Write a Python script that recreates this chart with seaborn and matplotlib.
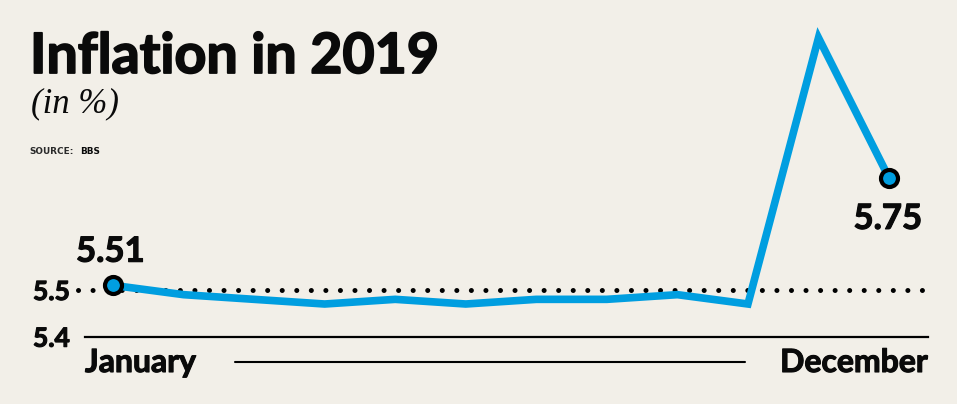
import numpy as np
import pandas as pd
import seaborn as sns
import matplotlib.pyplot as plt
import matplotlib.patheffects as pe

# monthly inflation 2019 (%)
months = ['January', 'February', 'March', 'April', 'May', 'June',
          'July', 'August', 'September', 'October', 'November', 'December']
inflation = [5.51, 5.49, 5.48, 5.47, 5.48, 5.47, 5.48, 5.48, 5.49, 5.47, 6.04, 5.74]
end_labels = ['5.51', '5.75']
y_ticks = [5.4, 5.5]
y_ticklabels = ['5.4', '5.5']

bg = '#f2efe8'
blue = '#009ee0'
ink = '#0a0a0a'

sns.set_theme(style='white')
plt.rcParams['font.family'] = ['Lato', 'DejaVu Sans']
plt.rcParams['text.color'] = ink
plt.rcParams['ytick.color'] = ink

# Lato Bold is lighter than the original face, so thicken it a little
heavy = [pe.withStroke(linewidth=0.8, foreground=ink)]
heavier = [pe.withStroke(linewidth=1.3, foreground=ink)]

df = pd.DataFrame({'month': np.arange(len(months)), 'value': inflation})

W, H = 957, 404
fig = plt.figure(figsize=(W / 100, H / 100), dpi=100, facecolor=bg)
# axes spans the plotting band: 85px..928px wide, baseline (5.4) at 336.7px
ax = fig.add_axes([85 / W, 1 - 336.7 / H, (928 - 85) / W, 336.7 / H])
ax.set_facecolor(bg)

# dotted reference line at 5.5, reaching a bit left of the axes
ax.axhline(5.5, xmin=-0.008, xmax=1.003, color='black', lw=3.6,
           linestyle=(0, (0.01, 2.9)), dash_capstyle='round', clip_on=False, zorder=1)

sns.lineplot(data=df, x='month', y='value', ax=ax, color=blue, lw=5.5, zorder=3,
             solid_joinstyle='miter', solid_capstyle='butt')

ends = df.iloc[[0, -1]]
sns.scatterplot(data=ends, x='month', y='value', ax=ax, s=150, color=blue,
                edgecolor='black', linewidth=3, zorder=4, clip_on=False)

ax.annotate(end_labels[0], (ends['month'].iloc[0], ends['value'].iloc[0]),
            xytext=(-2, 17), textcoords='offset points', ha='center', va='baseline',
            fontsize=25, fontweight='bold', path_effects=heavy)
ax.annotate(end_labels[1], (ends['month'].iloc[1], ends['value'].iloc[1]),
            xytext=(-1, -18), textcoords='offset points', ha='center', va='top',
            fontsize=25, fontweight='bold', path_effects=heavy)

ax.set_xlim((85 - 113) / 70.55, (928 - 113) / 70.55)
ax.set_ylim(5.4, 5.5 + 290 / 467)
ax.set_yticks(y_ticks)
ax.set_yticklabels(y_ticklabels, fontsize=19, fontweight='bold')
for lab in ax.get_yticklabels():
    lab.set_path_effects(heavy)
ax.tick_params(axis='y', length=0, pad=11)
ax.set_xticks([])
ax.set_xlabel('')
ax.set_ylabel('')
for side in ['top', 'right', 'left']:
    ax.spines[side].set_visible(False)
ax.spines['bottom'].set_color('black')
ax.spines['bottom'].set_linewidth(1.6)

# x labels with a rule between them
fig.text(85 / W, 1 - 372 / H, months[0], fontsize=23, fontweight='bold',
         va='baseline', path_effects=heavy)
fig.text(928 / W, 1 - 372 / H, months[-1], fontsize=23, fontweight='bold',
         va='baseline', ha='right', path_effects=heavy)
fig.add_artist(plt.Line2D([235 / W, 745 / W], [1 - 362 / H, 1 - 362 / H],
                          color='black', lw=1.5))

# headings
fig.text(30 / W, 1 - 73 / H, 'Inflation in 2019', fontsize=40, fontweight='bold',
         va='baseline', path_effects=heavier)
fig.text(31 / W, 1 - 112 / H, '(in %)', fontsize=25, style='italic',
         family='Liberation Serif', va='baseline')
fig.text(29 / W, 1 - 154 / H, 'SOURCE:', fontsize=6.4, family='DejaVu Sans',
         fontweight='bold', va='baseline', color='#2a2a2a')
fig.text(80 / W, 1 - 154 / H, 'BBS', fontsize=6.4, family='DejaVu Sans',
         fontweight='bold', va='baseline')

fig.savefig('out.png', dpi=100, facecolor=bg)
